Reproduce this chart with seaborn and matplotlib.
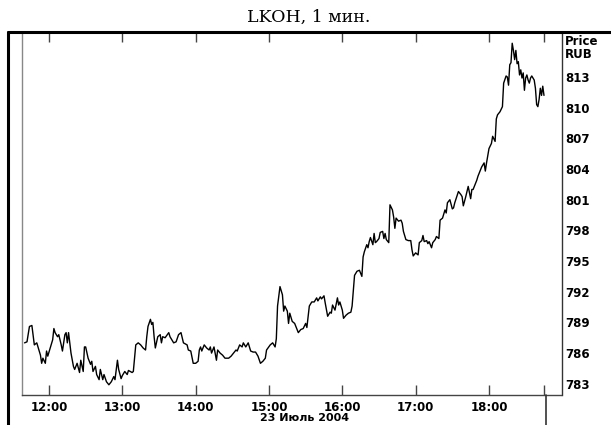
import pandas as pd
import matplotlib.pyplot as plt
import matplotlib.dates as mdates
from matplotlib.lines import Line2D
import seaborn as sns

sns.set_style("white")
plt.rcParams['font.family'] = ['DejaVu Sans']
plt.rcParams['text.color'] = 'black'
plt.rcParams['xtick.color'] = 'black'
plt.rcParams['ytick.color'] = 'black'

times = [
    "11:40", "11:42", "11:44", "11:46", "11:48", "11:50", "11:53", "11:54", "11:55", "11:57",
    "11:58", "11:59", "12:01", "12:03", "12:04", "12:05", "12:07", "12:08", "12:10", "12:11",
    "12:13", "12:14", "12:15", "12:16", "12:18", "12:20", "12:21", "12:23", "12:25", "12:26",
    "12:28", "12:29", "12:30", "12:32", "12:34", "12:35", "12:36", "12:38", "12:39", "12:41",
    "12:42", "12:44", "12:45", "12:47", "12:49", "12:51", "12:53", "12:54", "12:56", "12:57",
    "12:59", "13:00", "13:02", "13:04", "13:05", "13:08", "13:09", "13:11", "13:13", "13:15",
    "13:17", "13:19", "13:20", "13:21", "13:23", "13:24", "13:25", "13:26", "13:27", "13:29",
    "13:31", "13:32", "13:33", "13:35", "13:38", "13:39", "13:42", "13:44", "13:46", "13:48",
    "13:49", "13:50", "13:53", "13:54", "13:56", "13:58", "14:00", "14:02", "14:03", "14:04",
    "14:05", "14:07", "14:09", "14:11", "14:12", "14:13", "14:15", "14:17", "14:18", "14:20",
    "14:22", "14:24", "14:27", "14:29", "14:31", "14:33", "14:34", "14:36", "14:38", "14:39",
    "14:41", "14:43", "14:45", "14:47", "14:49", "14:51", "14:53", "14:55", "14:57", "14:58",
    "15:01", "15:03", "15:05", "15:06", "15:07", "15:09", "15:11", "15:12", "15:13", "15:15",
    "15:16", "15:17", "15:19", "15:21", "15:24", "15:26", "15:28", "15:30", "15:31", "15:33",
    "15:35", "15:37", "15:39", "15:40", "15:42", "15:43", "15:45", "15:46", "15:48", "15:50",
    "15:51", "15:52", "15:54", "15:56", "15:57", "15:58", "16:00", "16:01", "16:03", "16:05",
    "16:07", "16:08", "16:10", "16:12", "16:14", "16:16", "16:17", "16:18", "16:20", "16:21",
    "16:22", "16:23", "16:25", "16:26", "16:27", "16:28", "16:30", "16:31", "16:33", "16:34",
    "16:35", "16:36", "16:38", "16:39", "16:41", "16:42", "16:43", "16:44", "16:46", "16:48",
    "16:49", "16:50", "16:52", "16:54", "16:56", "16:57", "16:58", "17:00", "17:02", "17:03",
    "17:05", "17:06", "17:07", "17:09", "17:10", "17:11", "17:13", "17:14", "17:16", "17:17",
    "17:19", "17:20", "17:22", "17:24", "17:25", "17:26", "17:28", "17:30", "17:31", "17:32",
    "17:35", "17:37", "17:38", "17:39", "17:41", "17:43", "17:45", "17:46", "17:47", "17:49",
    "17:50", "17:51", "17:52", "17:54", "17:56", "17:57", "17:58", "18:00", "18:02", "18:03",
    "18:05", "18:06", "18:07", "18:09", "18:11", "18:12", "18:14", "18:15", "18:16", "18:17",
    "18:18", "18:19", "18:20", "18:21", "18:22", "18:23", "18:24", "18:25", "18:26", "18:27",
    "18:28", "18:29", "18:30", "18:31", "18:32", "18:33", "18:34", "18:35", "18:36", "18:37",
    "18:38", "18:39", "18:40", "18:41", "18:42", "18:43", "18:44", "18:45",
]

prices = [
    787.0, 787.1, 788.6, 788.7, 786.8, 787.0, 785.8, 785.0, 785.5, 785.0,
    786.2, 785.7, 786.5, 787.3, 788.4, 788.0, 787.6, 787.8, 786.8, 786.2,
    787.8, 788.0, 787.0, 788.0, 786.0, 784.7, 784.4, 785.0, 784.1, 785.3,
    784.2, 786.6, 786.6, 785.5, 784.9, 785.2, 784.2, 784.7, 783.9, 783.4,
    784.4, 783.4, 783.9, 783.2, 782.9, 783.2, 783.7, 783.4, 785.3, 784.4,
    783.5, 783.8, 784.2, 783.9, 784.3, 784.1, 784.2, 786.8, 787.0, 786.8,
    786.5, 786.3, 787.6, 788.6, 789.3, 788.8, 789.0, 787.6, 786.5, 787.6,
    787.8, 787.0, 787.6, 787.5, 788.0, 787.6, 787.0, 787.1, 787.8, 788.0,
    787.5, 787.0, 786.8, 786.3, 786.2, 785.0, 785.0, 785.2, 786.3, 786.6,
    786.2, 786.8, 786.5, 786.3, 786.6, 786.0, 786.6, 785.3, 786.3, 786.0,
    785.8, 785.5, 785.5, 785.7, 786.0, 786.3, 786.2, 786.8, 786.6, 787.0,
    786.6, 787.0, 786.2, 786.1, 786.1, 785.7, 785.0, 785.2, 785.5, 786.3,
    786.8, 787.0, 786.6, 787.4, 790.6, 792.5, 791.7, 790.1, 790.6, 790.1,
    788.9, 789.9, 789.1, 788.9, 788.0, 788.3, 788.4, 788.9, 788.5, 790.6,
    791.0, 791.0, 791.4, 791.1, 791.5, 791.3, 791.6, 790.9, 789.6, 790.0,
    789.9, 790.7, 790.2, 791.4, 790.7, 791.0, 790.2, 789.4, 789.7, 789.9,
    790.0, 790.6, 793.6, 794.0, 794.1, 793.5, 795.4, 795.9, 796.6, 796.3,
    796.9, 797.3, 796.6, 797.7, 796.8, 796.9, 797.2, 797.8, 797.9, 797.2,
    797.7, 797.1, 796.8, 800.5, 800.0, 799.3, 798.2, 799.2, 798.9, 799.0,
    798.7, 797.9, 797.1, 797.0, 797.0, 796.1, 795.5, 795.8, 795.6, 796.8,
    797.0, 797.5, 796.9, 797.0, 796.7, 796.9, 796.3, 796.8, 797.1, 797.4,
    797.2, 799.0, 799.2, 800.0, 799.7, 800.7, 801.0, 800.1, 800.2, 800.7,
    801.8, 801.5, 801.3, 800.4, 801.3, 802.3, 801.1, 802.0, 802.0, 802.6,
    802.9, 803.3, 803.6, 804.2, 804.6, 803.8, 804.6, 806.0, 806.5, 807.2,
    806.7, 808.9, 809.3, 809.6, 810.1, 812.4, 813.1, 813.0, 812.2, 814.2,
    814.4, 816.3, 815.6, 814.7, 815.6, 814.3, 814.5, 813.2, 813.7, 812.9,
    813.4, 811.7, 812.9, 813.2, 812.7, 812.4, 812.9, 813.1, 812.9, 812.7,
    811.9, 810.3, 810.1, 810.8, 811.9, 811.2, 812.1, 811.2,
]

hour_ticks = ["12:00", "13:00", "14:00", "15:00", "16:00", "17:00", "18:00"]
price_ticks = [783, 786, 789, 792, 795, 798, 801, 804, 807, 810, 813]
day = "2004-07-23"

df = pd.DataFrame({"time": pd.to_datetime([day + " " + t for t in times]),
                   "price": prices})

W, H = 611, 425
fig = plt.figure(figsize=(W / 100, H / 100), dpi=100)
ax = fig.add_axes([21.7 / W, 1 - 395 / H, (561.5 - 21.7) / W, (395 - 32) / H])

sns.lineplot(data=df, x="time", y="price", ax=ax, color="black", linewidth=1.0)

ax.set_xlim(pd.Timestamp(day + " 11:37:40"), pd.Timestamp(day + " 18:59:20"))
ax.set_ylim(781.9, 817.4)

xt = [pd.Timestamp(day + " " + t) for t in hour_ticks] + [pd.Timestamp(day + " 18:45")]
ax.set_xticks(xt)
ax.set_xticklabels(hour_ticks + [""])
ax.tick_params(axis="x", direction="in", length=7, width=1, color="#444444",
               labelcolor="black", top=True, bottom=True, labelsize=8.5, pad=4)
for lab in ax.get_xticklabels():
    lab.set_fontweight("bold")

ax.yaxis.tick_right()
ax.set_yticks(price_ticks)
ax.set_yticklabels([str(p) for p in price_ticks])
ax.tick_params(axis="y", length=0, labelsize=8.5, pad=3, labelcolor="black")
for lab in ax.get_yticklabels():
    lab.set_fontweight("bold")

ax.set_xlabel("")
ax.set_ylabel("")
ax.spines["top"].set_visible(False)
ax.spines["left"].set_color("#888888")
ax.spines["bottom"].set_color("#444444")
ax.spines["right"].set_color("#333333")
for s in ax.spines.values():
    s.set_linewidth(1.0)

# Price / RUB header above the scale
ax.text(1.006, 1 - 3 / 363, "Price\nRUB", transform=ax.transAxes, ha="left", va="top",
        fontsize=8.5, fontweight="bold", linespacing=1.05, color="black")

# outer frame lines and the end-of-session divider
fig.add_artist(Line2D([8 / W, 1], [1 - 32 / H] * 2, color="black", linewidth=2.2))
fig.add_artist(Line2D([8 / W] * 2, [0, 1 - 32 / H], color="black", linewidth=2.2))
fig.add_artist(Line2D([546 / W] * 2, [0, 1 - 395 / H], color="#333333", linewidth=1.2))

fig.text(309 / W, 1 - 17 / H, "LKOH, 1 мин.", ha="center", va="center",
         fontsize=12.5, family="DejaVu Serif", color="black")
fig.text(305 / W, 2 / H, "23 Июль 2004", ha="center", va="bottom",
         fontsize=8, fontweight="bold", color="black")

fig.savefig("out.png", dpi=100)
